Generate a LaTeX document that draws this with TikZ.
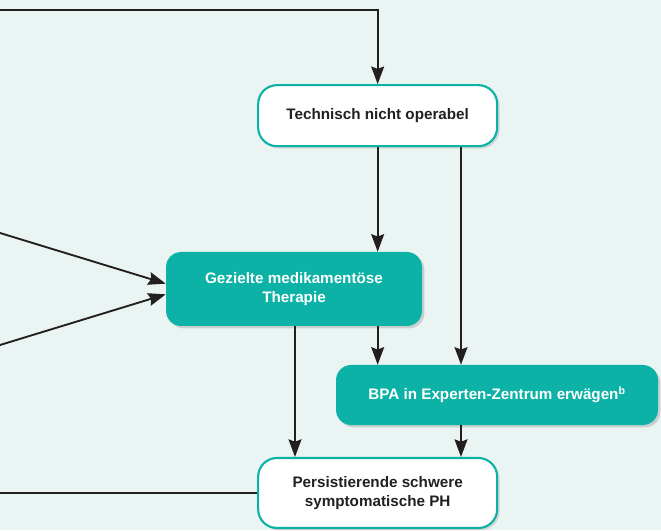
\documentclass[tikz,border=0pt]{standalone}
\usepackage{fontspec}
\setmainfont{Liberation Sans}
\usetikzlibrary{arrows.meta, positioning, shadows}
\definecolor{phteal}{HTML}{0BB2A5}
\definecolor{phbg}{HTML}{EAF4F3}
\definecolor{phdark}{HTML}{231F20}

\begin{document}
\begin{tikzpicture}[
  every node/.style={font=\fontsize{13}{15.5}\selectfont\bfseries},
  whitebox/.style={rectangle, rounded corners=16pt, draw=phteal, line width=1.8pt, fill=white, text=phdark, align=center, drop shadow={opacity=0.25, shadow xshift=2pt, shadow yshift=-2pt}},
  tealbox/.style={rectangle, rounded corners=13pt, fill=phteal, text=white, align=center, drop shadow={opacity=0.3, shadow xshift=2pt, shadow yshift=-2pt}},
  flow/.style={-{Stealth[length=15pt, width=11pt, inset=2pt]}, line width=1.6pt, phdark},
  plain/.style={line width=1.6pt, phdark},
]

% Background
\fill[phbg] (0,0) rectangle (19.83,15.9);
\useasboundingbox (0,0) rectangle (19.83,15.9);

% Boxes
\node[whitebox, minimum width=7.17cm, minimum height=1.83cm] (tech) at (11.33, 12.43) {Technisch nicht operabel};
\node[tealbox, minimum width=7.68cm, minimum height=2.22cm] (ther) at (8.82, 7.23) {Gezielte medikamentöse\\Therapie};
\node[tealbox, minimum width=9.66cm, minimum height=1.8cm] (bpa) at (14.91, 4.05) {BPA in Experten-Zentrum erwägen\textsuperscript{b}};
\node[whitebox, minimum width=7.17cm, minimum height=2.1cm] (pers) at (11.33, 1.11) {Persistierende schwere\\symptomatische PH};

% Free ends at the left and top
\coordinate (topleft) at (0, 15.6);
\coordinate (inA) at (0, 8.91);
\coordinate (inB) at (0, 5.55);
\coordinate (outleft) at (0, 1.11);

% Columns of the vertical connectors
\coordinate (colR) at (13.83, 0);
\coordinate (colL) at (8.85, 0);

% Connectors
\draw[flow] (topleft) -| (tech.north);
\draw[flow] (tech.south) -- (tech.south |- ther.north);
\draw[flow] (colR |- tech.south) -- (colR |- bpa.north);
\draw[flow] (inA) -- ([yshift=0.16cm]ther.west);
\draw[flow] (inB) -- ([yshift=-0.16cm]ther.west);
\draw[flow] (colL |- ther.south) -- (colL |- pers.north);
\draw[flow] (tech.south |- ther.south) -- (tech.south |- bpa.north);
\draw[flow] (colR |- bpa.south) -- (colR |- pers.north);
\draw[plain] (outleft) -- (pers.west);

\end{tikzpicture}
\end{document}
